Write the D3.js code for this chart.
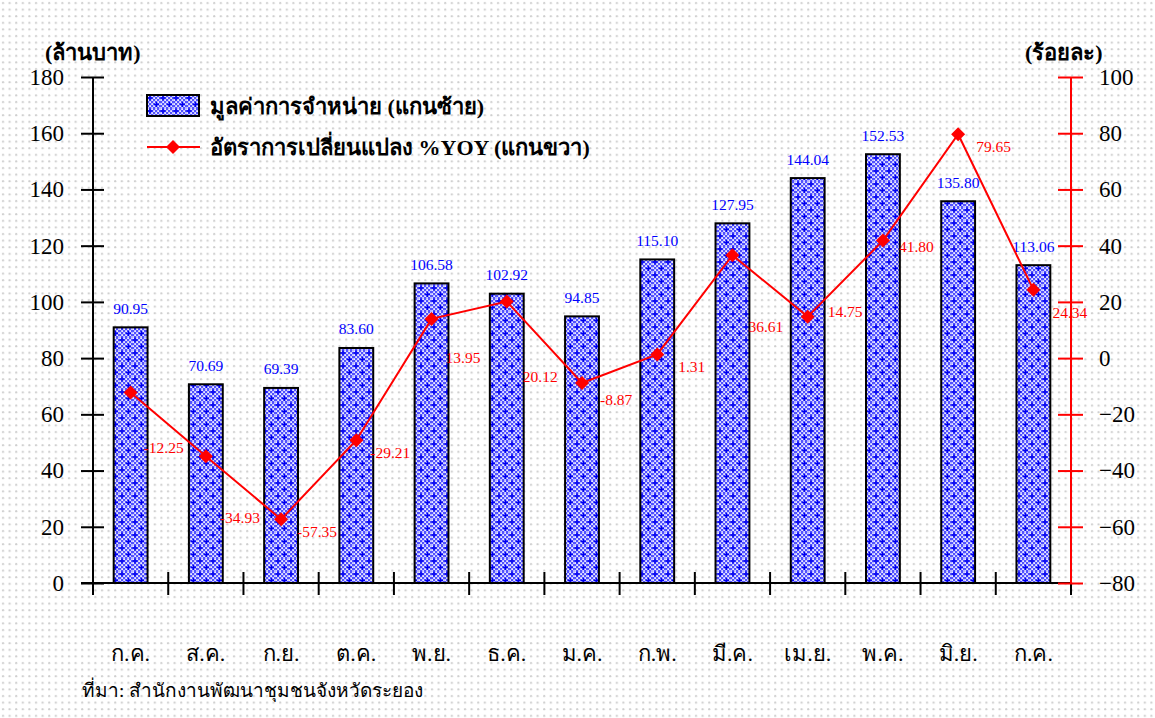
<!DOCTYPE html>
<html>
<head>
<meta charset="utf-8">
<script src="https://cdn.jsdelivr.net/npm/d3@7"></script>
<style>
  body { margin: 0; background: #fff; }
  svg { display: block; }
  text { font-family: "Liberation Serif", "DejaVu Serif", serif; }
</style>
</head>
<body>
<div id="chart"></div>
<script>
const months = ["ก.ค.", "ส.ค.", "ก.ย.", "ต.ค.", "พ.ย.", "ธ.ค.", "ม.ค.", "ก.พ.", "มี.ค.", "เม.ย.", "พ.ค.", "มิ.ย.", "ก.ค."];
const salesValue = [90.95, 70.69, 69.39, 83.6, 106.58, 102.92, 94.85, 115.1, 127.95, 144.04, 152.53, 135.8, 113.06];
const yoyChange = [-12.25, -34.93, -57.35, -29.21, 13.95, 20.12, -8.87, 1.31, 36.61, 14.75, 41.8, 79.65, 24.34];
const leftTicks = [0, 20, 40, 60, 80, 100, 120, 140, 160, 180];
const rightTicks = [-80, -60, -40, -20, 0, 20, 40, 60, 80, 100];
const barLegend = "มูลค่าการจำหน่าย (แกนซ้าย)";
const lineLegend = "อัตราการเปลี่ยนแปลง %YOY (แกนขวา)";
const leftTitle = "(ล้านบาท)";
const rightTitle = "(ร้อยละ)";
const sourceNote = "ที่มา: สำนักงานพัฒนาชุมชนจังหวัดระยอง";

// where each red % label sits relative to its point (dx, dy in px)
const yoyLabelShift = [[13, 55], [14, 61], [16, 12], [14, 12], [14, 39], [16, 75], [18, 17],
  [21, 12], [16, 71], [20, -5], [16, 6], [18, 12], [19, 23]];

const W = 1155, H = 718;
const margin = { top: 77, left: 93, right: 84, bottom: 135 };
const plotW = W - margin.left - margin.right,
  plotH = H - margin.top - margin.bottom;
const serif = "'Liberation Serif', 'Times New Roman', serif";

const svg = d3.select("#chart").append("svg").attr("width", W).attr("height", H);

const defs = svg.append("defs");
// dotted page background
const bgPat = defs.append("pattern").attr("id", "bgdots")
  .attr("patternUnits", "userSpaceOnUse").attr("width", 6.6).attr("height", 6.6);
bgPat.append("rect").attr("width", 6.6).attr("height", 6.6).attr("fill", "#fff");
bgPat.append("circle").attr("cx", 3).attr("cy", 3).attr("r", 1.1).attr("fill", "#cfcfcf");

// bar fill: blue with white checker dots and blue crosses
const chk = defs.append("pattern").attr("id", "chk")
  .attr("patternUnits", "userSpaceOnUse").attr("width", 4).attr("height", 4);
chk.append("rect").attr("width", 4).attr("height", 4).attr("fill", "#5252ff");
chk.append("rect").attr("x", 0.2).attr("y", 0.2).attr("width", 1.8).attr("height", 1.8).attr("fill", "#ececff");
chk.append("rect").attr("x", 2.2).attr("y", 2.2).attr("width", 1.8).attr("height", 1.8).attr("fill", "#ececff");
const cross = defs.append("pattern").attr("id", "barfill")
  .attr("patternUnits", "userSpaceOnUse").attr("width", 13).attr("height", 13);
cross.append("rect").attr("width", 13).attr("height", 13).attr("fill", "url(#chk)");
[[3, 3], [9.5, 9.5]].forEach(([cx, cy]) => {
  cross.append("path")
    .attr("d", `M${cx - 2.5},${cy}H${cx + 2.5}M${cx},${cy - 2.5}V${cy + 2.5}`)
    .attr("stroke", "#0000f0").attr("stroke-width", 1.4);
});

svg.append("rect").attr("width", W).attr("height", H).attr("fill", "url(#bgdots)");

const g = svg.append("g").attr("transform", `translate(${margin.left},${margin.top})`);

const x = d3.scaleBand().domain(d3.range(months.length)).range([0, plotW])
  .paddingInner(0.55).paddingOuter(0.275);
const yL = d3.scaleLinear().domain([0, 180]).range([plotH, 0]);
const yR = d3.scaleLinear().domain([-80, 100]).range([plotH, 0]);
const cx = (i) => x(i) + x.bandwidth() / 2;

// bars
g.selectAll(".bar").data(salesValue).join("rect")
  .attr("class", "bar")
  .attr("x", (d, i) => x(i))
  .attr("y", (d) => yL(d))
  .attr("width", x.bandwidth())
  .attr("height", (d) => plotH - yL(d))
  .attr("fill", "url(#barfill)")
  .attr("stroke", "#000").attr("stroke-width", 2);

g.selectAll(".barlab").data(salesValue).join("text")
  .attr("x", (d, i) => cx(i))
  .attr("y", (d) => yL(d) - 19)
  .attr("dy", "0.35em")
  .attr("text-anchor", "middle")
  .attr("fill", "#0000ff").style("font-size", "15.5px")
  .text((d) => d.toFixed(2));

// x axis: line + boundary ticks
const step = x.step();
g.append("line").attr("x1", -12).attr("x2", plotW).attr("y1", plotH).attr("y2", plotH)
  .attr("stroke", "#000").attr("stroke-width", 2);
g.selectAll(".xtick").data(d3.range(1, months.length + 1)).join("line")
  .attr("x1", (k) => k * step).attr("x2", (k) => k * step)
  .attr("y1", plotH - 11).attr("y2", plotH + 12)
  .attr("stroke", "#000").attr("stroke-width", 2);
g.selectAll(".xlab").data(months).join("text")
  .attr("x", (d, i) => cx(i))
  .attr("y", plotH + 70)
  .attr("dy", "0.35em")
  .attr("text-anchor", "middle")
  .style("font-size", "22px")
  .text((d) => d);

// left axis
const axL = g.append("g")
  .call(d3.axisLeft(yL).tickValues(leftTicks).tickSize(11).tickPadding(18))
  .attr("font-family", serif).attr("font-size", 23);
axL.select(".domain").remove();
axL.selectAll(".tick line").attr("x2", -12).attr("x1", 11).attr("stroke-width", 2);
axL.selectAll(".tick text").style("font-family", serif).attr("fill", "#000");
g.append("line").attr("x1", 0).attr("x2", 0).attr("y1", 0).attr("y2", plotH + 12)
  .attr("stroke", "#000").attr("stroke-width", 2);

// right axis (red)
const axR = g.append("g").attr("transform", `translate(${plotW},0)`)
  .call(d3.axisRight(yR).tickValues(rightTicks).tickSize(12).tickPadding(16))
  .attr("font-family", serif).attr("font-size", 23);
axR.select(".domain").remove();
axR.selectAll(".tick line").attr("x1", -13).attr("stroke", "#ff0000").attr("stroke-width", 2);
axR.selectAll(".tick text").style("font-family", serif).attr("fill", "#000");
g.append("line").attr("x1", plotW).attr("x2", plotW).attr("y1", 0).attr("y2", plotH)
  .attr("stroke", "#ff0000").attr("stroke-width", 2);

// YoY line
const line = d3.line().x((d, i) => cx(i)).y((d) => yR(d));
g.append("path").datum(yoyChange).attr("d", line)
  .attr("fill", "none").attr("stroke", "#ff0000").attr("stroke-width", 2);
const diamond = "M0,-7L7,0L0,7L-7,0Z";
g.selectAll(".pt").data(yoyChange).join("path")
  .attr("d", diamond)
  .attr("transform", (d, i) => `translate(${cx(i)},${yR(d)})`)
  .attr("fill", "#ff0000");
g.selectAll(".yoylab").data(yoyChange).join("text")
  .attr("x", (d, i) => cx(i) + yoyLabelShift[i][0])
  .attr("y", (d, i) => yR(d) + yoyLabelShift[i][1])
  .attr("dy", "0.35em")
  .attr("fill", "#ff0000").style("font-size", "15.5px")
  .text((d) => d.toFixed(2));

// legend
const leg = svg.append("g").attr("transform", "translate(147,95)");
leg.append("rect").attr("width", 52).attr("height", 21)
  .attr("fill", "url(#barfill)").attr("stroke", "#000").attr("stroke-width", 2);
leg.append("text").attr("x", 63).attr("y", 11).attr("dy", "0.35em")
  .style("font-size", "22px").style("font-weight", "bold").text(barLegend);
leg.append("line").attr("x1", 0).attr("x2", 53).attr("y1", 52).attr("y2", 52)
  .attr("stroke", "#ff0000").attr("stroke-width", 2);
leg.append("path").attr("d", diamond).attr("transform", "translate(26,52)").attr("fill", "#ff0000");
leg.append("text").attr("x", 63).attr("y", 52).attr("dy", "0.35em")
  .style("font-size", "22px").style("font-weight", "bold").text(lineLegend);

// titles and source
svg.append("text").attr("x", 45).attr("y", 52).attr("dy", "0.35em")
  .style("font-size", "22px").style("font-weight", "bold").text(leftTitle);
svg.append("text").attr("x", 1025).attr("y", 52).attr("dy", "0.35em")
  .style("font-size", "22px").style("font-weight", "bold").text(rightTitle);
svg.append("text").attr("x", 82).attr("y", 690).attr("dy", "0.35em")
  .style("font-size", "19px").text(sourceNote);
</script>
</body>
</html>
